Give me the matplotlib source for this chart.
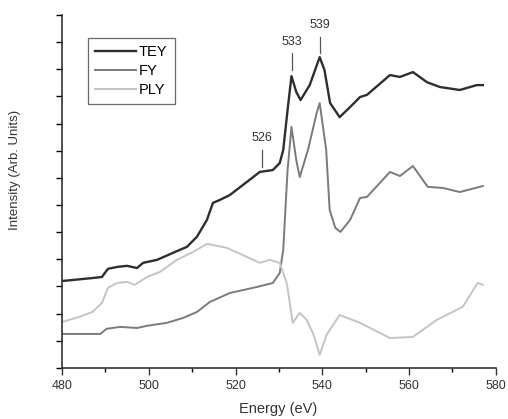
import matplotlib
matplotlib.use('Agg')
import matplotlib.pyplot as plt
from matplotlib.ticker import MultipleLocator, NullFormatter

plt.rcParams['font.family'] = ['Liberation Sans', 'DejaVu Sans']

# energies (eV) and intensities (arb. units)
tey_e = [480, 487, 489.2, 490.6, 492.7, 495, 497.3, 498.7, 501.9, 505.6, 508.8, 511.1,
         513.4, 514.8, 516.4, 518.7, 522.6, 525.6, 528.6, 530.2, 531, 532, 532.9, 534,
         535, 537.1, 539.4, 540.5, 541.8, 544, 546.4, 548.7, 550.3, 555.6, 557.9, 560.9,
         564.1, 567.1, 571.7, 575.6, 577]
tey_i = [3.20, 3.31, 3.35, 3.65, 3.72, 3.76, 3.68, 3.87, 3.98, 4.24, 4.46, 4.83,
         5.45, 6.08, 6.19, 6.37, 6.85, 7.22, 7.29, 7.55, 8.03, 9.50, 10.75, 10.17,
         9.87, 10.42, 11.45, 10.98, 9.76, 9.24, 9.61, 9.98, 10.06, 10.79, 10.72, 10.90,
         10.53, 10.35, 10.24, 10.42, 10.42]

fy_e = [480, 488.8, 490.3, 493.4, 497.3, 499.6, 504.2, 507.9, 511.1, 514.1, 518.7, 524.9,
        528.6, 530.2, 531, 532, 532.9, 534, 534.8, 536.7, 538.7, 539.4, 540.9, 541.7,
        543, 544.2, 546.4, 548.7, 550.3, 555.6, 557.9, 560.9, 564.3, 567.8, 571.7, 577]
fy_i = [1.25, 1.25, 1.44, 1.51, 1.47, 1.55, 1.66, 1.84, 2.06, 2.43, 2.76, 2.98,
        3.13, 3.50, 4.35, 7.29, 8.88, 7.66, 7.03, 8.03, 9.39, 9.76, 8.03, 5.82,
        5.16, 5.01, 5.45, 6.26, 6.30, 7.22, 7.07, 7.44, 6.67, 6.63, 6.48, 6.70]

ply_e = [480, 484, 487, 489.2, 490.6, 492.7, 495, 496.8, 499.6, 502.6, 506.5, 510.2,
         513.4, 516, 518, 522.6, 525.6, 527.9, 530.2, 531.8, 533.2, 534.8, 536.4, 538,
         539.4, 541, 544, 548.7, 555.6, 560.9, 566.4, 572.4, 575.8, 577]
ply_i = [1.69, 1.88, 2.06, 2.39, 2.95, 3.13, 3.17, 3.06, 3.35, 3.54, 3.98, 4.27,
         4.57, 4.49, 4.42, 4.09, 3.87, 3.98, 3.87, 3.13, 1.66, 2.03, 1.77, 1.22,
         0.48, 1.22, 1.95, 1.66, 1.10, 1.14, 1.77, 2.25, 3.13, 3.06]

# peak markers: label, energy, line bottom, line top, text level
peaks = [('526', 526, 7.40, 8.03, 8.47),
         ('533', 533, 10.98, 11.60, 12.02),
         ('539', 539.4, 11.60, 12.19, 12.63)]

fig = plt.figure(figsize=(5.08, 4.19), dpi=100)
ax = fig.add_axes([0.122, 0.122, 0.854, 0.842])

ax.plot(tey_e, tey_i, color='#2e2e2e', lw=1.7, label='TEY', solid_joinstyle='round')
ax.plot(fy_e, fy_i, color='#7a7a7a', lw=1.4, label='FY', solid_joinstyle='round')
ax.plot(ply_e, ply_i, color='#c4c4c4', lw=1.4, label='PLY', solid_joinstyle='round')

for lab, e, y0, y1, yt in peaks:
    ax.plot([e, e], [y0, y1], color='#555555', lw=0.9)
    ax.text(e, yt, lab, ha='center', va='center', fontsize=9, color='#333333')

ax.set_xlim(480, 580)
ax.set_ylim(0, 13)
ax.xaxis.set_major_locator(MultipleLocator(20))
ax.xaxis.set_minor_locator(MultipleLocator(10))
ax.yaxis.set_major_locator(MultipleLocator(1))
ax.yaxis.set_major_formatter(NullFormatter())
ax.tick_params(axis='x', which='major', length=5, width=1, labelsize=9, colors='#333333')
ax.tick_params(axis='x', which='minor', length=3, width=1)
ax.tick_params(axis='y', length=4, width=1)

for s in ['top', 'right']:
    ax.spines[s].set_visible(False)
for s in ['left', 'bottom']:
    ax.spines[s].set_linewidth(1.2)
    ax.spines[s].set_color('#333333')

ax.set_xlabel('Energy (eV)', fontsize=10.5, color='#333333')
ax.set_ylabel('Intensity (Arb. Units)', fontsize=9.5, color='#333333')
ax.xaxis.set_label_coords(0.498, -0.097)
ax.yaxis.set_label_coords(-0.094, 0.56)

leg = ax.legend(loc='upper left', bbox_to_anchor=(0.06, 0.935), borderaxespad=0,
                fontsize=10.5, frameon=True, fancybox=False, edgecolor='#444444',
                handlelength=2.8, handletextpad=0.2, borderpad=0.5, labelspacing=0.32)
leg.get_frame().set_linewidth(0.9)

fig.savefig('out.png', dpi=100)
